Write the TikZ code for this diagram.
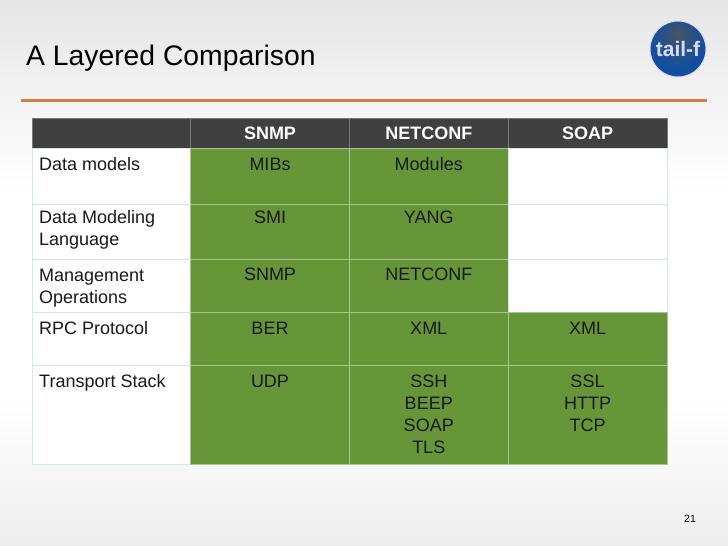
\documentclass[tikz,border=0pt]{standalone}
\usepackage{fontspec}
\setmainfont{Liberation Sans}
\usetikzlibrary{positioning}
\definecolor{headgray}{HTML}{404040}
\definecolor{cellgreen}{HTML}{669637}
\definecolor{gridblue}{HTML}{D8E6EA}
\definecolor{rulered}{HTML}{D97B3C}
\pgfdeclareradialshading{logoball}{\pgfpoint{0bp}{14bp}}{%
  color(0bp)=(rgb:red,0.66;green,0.76;blue,0.88);
  color(10bp)=(rgb:red,0.30;green,0.50;blue,0.76);
  color(25bp)=(rgb:red,0.07;green,0.31;blue,0.62);
  color(45bp)=(rgb:red,0.05;green,0.20;blue,0.45);
  color(60bp)=(rgb:red,0.05;green,0.20;blue,0.45)}
\tikzset{
  cell/.style 2 args={rectangle,draw=gridblue,line width=0.7pt,inner sep=0pt,outer sep=0pt,minimum
    width=#1,minimum height=#2},
  green/.style={fill=cellgreen,draw=cellgreen!55!white},
  head/.style={fill=headgray,draw=headgray!70!white},
  celltext/.style={inner sep=0pt,align=center,text=black!90,font=\fontsize{18}{22}\selectfont,
    execute at begin node=\strut},
  rowtext/.style={celltext,align=left,anchor=north west},
  headtext/.style={inner sep=0pt,text=white,font=\fontsize{18}{22}\selectfont\bfseries},
}
\begin{document}
\begin{tikzpicture}[x=1pt,y=-1pt]
      \useasboundingbox (0,0) rectangle (728,546);
      \shade[top color=black!10,bottom color=white] (0,0) rectangle (728,190);
      \fill[white] (0,190) rectangle (728,400);
      \shade[top color=white,bottom color=black!7] (0,400) rectangle (728,546);
      \node (title) [anchor=base west,inner sep=0pt,font=\fontsize{28.3}{30}\selectfont] at (26,65) {A Layered Comparison};
      \coordinate (ruleL) at (21,100);
      \coordinate (ruleR) at (707,100);
      \draw[rulered,line width=3pt] (ruleL) -- (ruleR);
      \node (logo) [circle,minimum size=56pt,inner sep=0pt,shading=logoball,draw=blue!15!white,line width=1pt,text=white!85!blue,font=\fontsize{21}{24}\selectfont\bfseries] at (678,49) {tail-f};
      % header row
      \node (h0) [cell={158.5pt}{30.5pt},head,anchor=north west] at (32,118) {};
      \node (h1) [cell={159pt}{30.5pt},head,right=0pt of h0] {};
      \node (h2) [cell={158.5pt}{30.5pt},head,right=0pt of h1] {};
      \node (h3) [cell={159pt}{30.5pt},head,right=0pt of h2] {};
      % table body
      \node (a0) [cell={158.5pt}{55.5pt},fill=white,below=0pt of h0] {};
      \node (a1) [cell={159pt}{55.5pt},green,right=0pt of a0] {};
      \node (a2) [cell={158.5pt}{55.5pt},green,right=0pt of a1] {};
      \node (a3) [cell={159pt}{55.5pt},fill=white,right=0pt of a2] {};
      \node (b0) [cell={158.5pt}{55pt},fill=white,below=0pt of a0] {};
      \node (b1) [cell={159pt}{55pt},green,right=0pt of b0] {};
      \node (b2) [cell={158.5pt}{55pt},green,right=0pt of b1] {};
      \node (b3) [cell={159pt}{55pt},fill=white,right=0pt of b2] {};
      \node (c0) [cell={158.5pt}{53pt},fill=white,below=0pt of b0] {};
      \node (c1) [cell={159pt}{53pt},green,right=0pt of c0] {};
      \node (c2) [cell={158.5pt}{53pt},green,right=0pt of c1] {};
      \node (c3) [cell={159pt}{53pt},fill=white,right=0pt of c2] {};
      \node (d0) [cell={158.5pt}{53pt},fill=white,below=0pt of c0] {};
      \node (d1) [cell={159pt}{53pt},green,right=0pt of d0] {};
      \node (d2) [cell={158.5pt}{53pt},green,right=0pt of d1] {};
      \node (d3) [cell={159pt}{53pt},green,right=0pt of d2] {};
      \node (e0) [cell={158.5pt}{99pt},fill=white,below=0pt of d0] {};
      \node (e1) [cell={159pt}{99pt},green,right=0pt of e0] {};
      \node (e2) [cell={158.5pt}{99pt},green,right=0pt of e1] {};
      \node (e3) [cell={159pt}{99pt},green,right=0pt of e2] {};
      % texts
      \node (h1t) [headtext] at (h1) {SNMP};
      \node (h2t) [headtext] at (h2) {NETCONF};
      \node (h3t) [headtext] at (h3) {SOAP};
      \node (a0t) [rowtext] at ([xshift=7pt,yshift=-6pt]a0.north west) {Data models};
      \node (b0t) [rowtext] at ([xshift=7pt,yshift=-6.5pt]b0.north west) {Data Modeling\\Language};
      \node (c0t) [rowtext] at ([xshift=7pt,yshift=-10pt]c0.north west) {Management\\Operations};
      \node (d0t) [rowtext] at ([xshift=7pt,yshift=-7pt]d0.north west) {RPC Protocol};
      \node (e0t) [rowtext] at ([xshift=7pt,yshift=-7pt]e0.north west) {Transport Stack};
      \node (a1t) [celltext,below=6pt of a1.north] {MIBs};
      \node (a2t) [celltext,below=6pt of a2.north] {Modules};
      \node (b1t) [celltext,below=4pt of b1.north] {SMI};
      \node (b2t) [celltext,below=4pt of b2.north] {YANG};
      \node (c1t) [celltext,below=6pt of c1.north] {SNMP};
      \node (c2t) [celltext,below=6pt of c2.north] {NETCONF};
      \node (d1t) [celltext,below=7pt of d1.north] {BER};
      \node (d2t) [celltext,below=7pt of d2.north] {XML};
      \node (d3t) [celltext,below=7pt of d3.north] {XML};
      \node (e1t) [celltext,below=7pt of e1.north] {UDP};
      \node (e2t) [celltext,below=10pt of e2.north] {SSH\\BEEP\\SOAP\\TLS};
      \node (e3t) [celltext,below=10pt of e3.north] {SSL\\HTTP\\TCP};
      \node (page) [inner sep=0pt,font=\fontsize{10.5}{12}\selectfont] at (690,519) {21};
    \end{tikzpicture}
\end{document}
